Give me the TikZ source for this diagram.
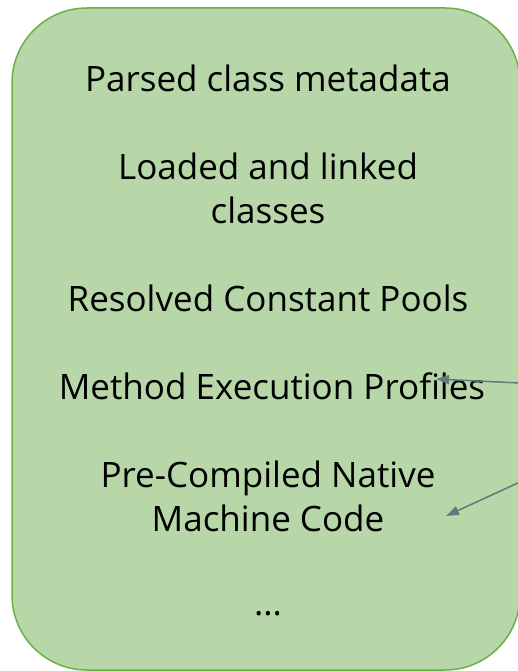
\documentclass[tikz,border=0pt]{standalone}
\usepackage{fontspec}
\setmainfont{Open Sans}
\usetikzlibrary{arrows.meta}
\definecolor{boxfill}{HTML}{B7D7A8}
\definecolor{boxline}{HTML}{6DB046}
\definecolor{arrowc}{HTML}{5F797D}
\begin{document}
\begin{tikzpicture}[x=1pt,y=-1pt,
  item/.style={font=\fontsize{35}{44}\selectfont, align=center, text=black, inner sep=0pt},
  pointer/.style={draw=arrowc, line width=1.5pt, -{Triangle[length=13pt,width=9pt]}}]
\useasboundingbox (0,0) rectangle (518,671);
\clip (0,0) rectangle (518,671);
\node[draw=boxline, line width=1.5pt, fill=boxfill, rounded corners=75pt,
      minimum width=508pt, minimum height=662pt, inner sep=0pt] (box) at (266,339) {};
\node[item] (t1) at (268,78) {Parsed class metadata};
\node[item] (t2) at (268,188) {Loaded and linked\\classes};
\node[item] (t3) at (268,298) {Resolved Constant Pools};
\node[item] (t4) at (272,386) {Method Execution Profiles};
\node[item] (t5) at (268,496) {Pre-Compiled Native\\Machine Code};
\node[item] (t6) at (268,614) {...};
\coordinate (s1) at (520,383);
\coordinate (e1) at (436,379);
\coordinate (s2) at (520,482);
\coordinate (e2) at (446,516);
\draw[pointer] (s1) -- (e1);
\draw[pointer] (s2) -- (e2);
\end{tikzpicture}
\end{document}
